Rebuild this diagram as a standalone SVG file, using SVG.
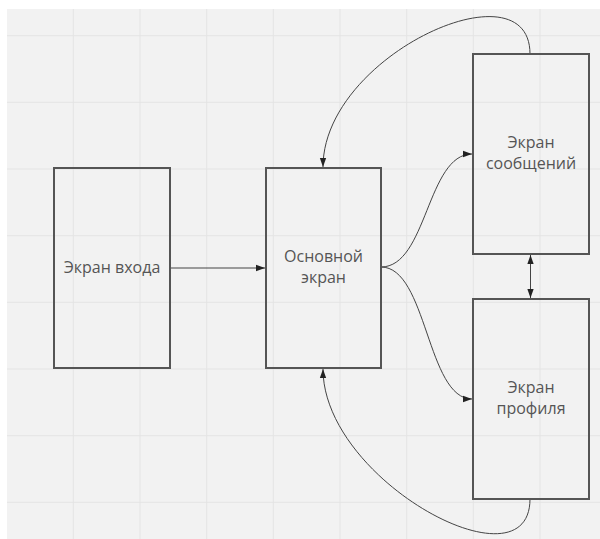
<svg xmlns="http://www.w3.org/2000/svg" width="600" height="539" viewBox="0 0 600 539">
<defs>
<style>
.box{fill:none;stroke:#555;stroke-width:2}
.lbl{font-family:"Open Sans","Liberation Sans",sans-serif;font-size:16px;fill:#555;text-anchor:middle}
.con{fill:none;stroke:#444;stroke-width:1}
.grid{stroke:#e4e4e4;stroke-width:1}
</style>
<marker id="ah" viewBox="0 0 10 10" refX="10" refY="5" markerWidth="9" markerHeight="9" markerUnits="userSpaceOnUse" orient="auto-start-reverse">
<path d="M0,1.5 L10,5 L0,8.5 Z" fill="#222"/>
</marker>
</defs>
<rect x="0" y="0" width="600" height="539" fill="#ffffff"/>
<rect x="7" y="9" width="593" height="530" fill="#f2f2f2"/>
<g id="grid">
<path class="grid" d="M73.3,9V539M140,9V539M206.7,9V539M273.3,9V539M340,9V539M406.7,9V539M473.3,9V539M540,9V539M7,35.7H600M7,102.3H600M7,169H600M7,235.7H600M7,302.3H600M7,369H600M7,435.7H600M7,502.3H600"/>
</g>
<g id="connectors">
<path class="con" d="M170,268 H265" marker-end="url(#ah)"/>
<path class="con" d="M381,267 C427,267 427,154 472,154" marker-end="url(#ah)"/>
<path class="con" d="M381,267 C427,267 427,399 472,399" marker-end="url(#ah)"/>
<path class="con" d="M530,54 C530,-38 323,55 323,167" marker-end="url(#ah)"/>
<path class="con" d="M530,499 C530,592 323,481 323,369" marker-end="url(#ah)"/>
<path class="con" d="M530.5,255 V298" marker-start="url(#ah)" marker-end="url(#ah)"/>
</g>
<g id="login">
<rect class="box" x="54" y="168" width="116" height="200"/>
<text class="lbl" x="112" y="272.5">Экран входа</text>
</g>
<g id="main">
<rect class="box" x="266" y="168" width="115" height="200"/>
<text class="lbl" x="323.5" y="262">Основной</text>
<text class="lbl" x="323.5" y="283">экран</text>
</g>
<g id="messages">
<rect class="box" x="473" y="54" width="116" height="200"/>
<text class="lbl" x="531" y="148">Экран</text>
<text class="lbl" x="531" y="169">сообщений</text>
</g>
<g id="profile">
<rect class="box" x="473" y="299" width="116" height="200"/>
<text class="lbl" x="531" y="393">Экран</text>
<text class="lbl" x="531" y="414">профиля</text>
</g>
</svg>
